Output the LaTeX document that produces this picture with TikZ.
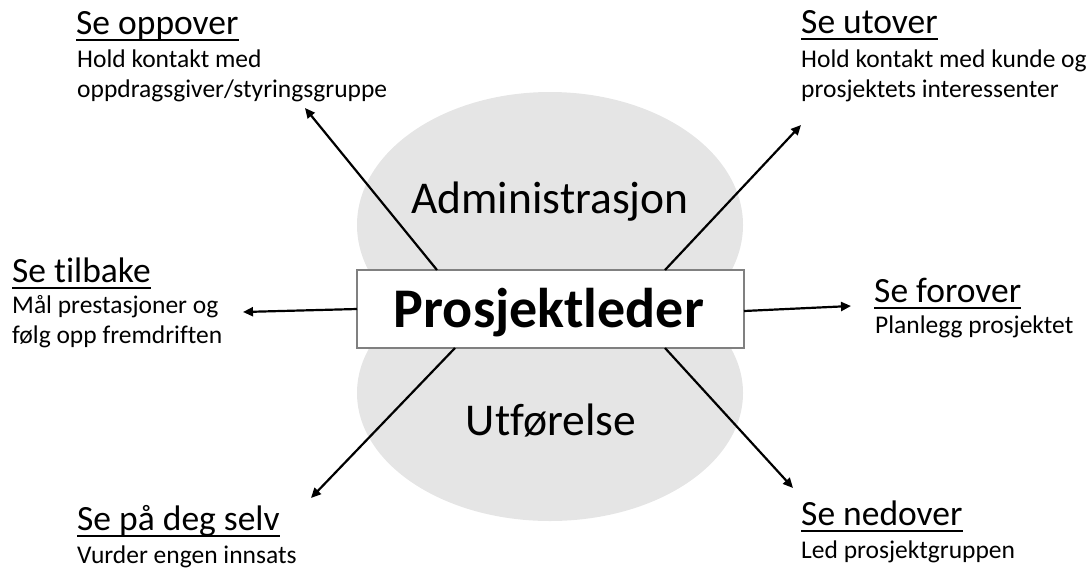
\documentclass[tikz,border=0pt]{standalone}
\usepackage{fontspec}
\setmainfont{Carlito}[Ligatures={NoCommon}]
\usetikzlibrary{arrows.meta}

\tikzset{
  blob/.style={fill=black!10, draw=none},
  centerbox/.style={draw=black!50, line width=1.4pt, fill=white, minimum width=387pt, minimum height=78pt, inner sep=0pt},
  head/.style={anchor=base west, inner sep=0pt, font=\fontsize{35.5}{40}\selectfont},
  body/.style={anchor=base west, inner sep=0pt, font=\fontsize{25.5}{30}\selectfont},
  area/.style={anchor=base, inner sep=0pt, font=\fontsize{45.5}{50}\selectfont},
  uline/.style={line width=1.8pt},
  dirarrow/.style={line width=2.2pt, -{Triangle[length=10pt,width=9pt]}}
}
\newcommand\twolines[2]{\vtop{\baselineskip=30.5pt\hbox{#1}\hbox{#2}}}

\begin{document}
\begin{tikzpicture}[x=1pt,y=-1pt]
\useasboundingbox (0,0) rectangle (1091,571);

% gray background shapes
\fill[blob] (550,225) ellipse [x radius=193, y radius=133];
\fill[blob] (550,393) ellipse [x radius=193, y radius=128];

\node[area] (adm) at (550,213) {Administrasjon};
\node[area] (utf) at (551,435) {Utførelse};

% central box
\node[centerbox] (pl) at (550.5,309) {};
\node[anchor=base, inner sep=0pt, font=\fontsize{56}{60}\selectfont\bfseries] (plt) at (549,327) {Prosjektleder};

% arrow anchors on the box border and free ends
\coordinate (sUL) at (437,270);
\coordinate (sUR) at (665,270);
\coordinate (sL)  at (357,309);
\coordinate (sR)  at (744,311);
\coordinate (sDL) at (455,348);
\coordinate (sDR) at (665,348);
\coordinate (tUL) at (305,108);
\coordinate (tUR) at (801,125);
\coordinate (tL)  at (243,312);
\coordinate (tR)  at (851,306);
\coordinate (tDL) at (311,498);
\coordinate (tDR) at (793,488);

\draw[dirarrow] (sUL) -- (tUL);
\draw[dirarrow] (sUR) -- (tUR);
\draw[dirarrow] (sL) -- (tL);
\draw[dirarrow] (sR) -- (tR);
\draw[dirarrow] (sDL) -- (tDL);
\draw[dirarrow] (sDR) -- (tDR);

% labels
\node[head] (h1) at (76,34) {Se oppover};
\node[body] (b1) at (77,67) {\twolines{Hold kontakt med}{oppdragsgiver/styringsgruppe}};
\draw[uline] ([yshift=-6pt]h1.base west) -- ([yshift=-6pt]h1.base east);

\node[head] (h2) at (801,33) {Se utover};
\node[body] (b2) at (801,67) {\twolines{Hold kontakt med kunde og}{prosjektets interessenter}};
\draw[uline] ([yshift=-6pt]h2.base west) -- ([yshift=-6pt]h2.base east);

\node[head] (h3) at (12,282) {Se tilbake};
\node[body] (b3) at (12,313) {\twolines{Mål prestasjoner og}{følg opp fremdriften}};
\draw[uline] ([yshift=-6pt]h3.base west) -- ([yshift=-6pt]h3.base east);

\node[head] (h4) at (874,302) {Se forover};
\node[body] (b4) at (875,333) {Planlegg prosjektet};
\draw[uline] ([yshift=-6pt]h4.base west) -- ([yshift=-6pt]h4.base east);

\node[head] (h5) at (77,530) {Se på deg selv};
\node[body] (b5) at (77,563) {Vurder engen innsats};
\draw[uline] ([yshift=-6pt]h5.base west) -- ([yshift=-6pt]h5.base east);

\node[head] (h6) at (801,525) {Se nedover};
\node[body] (b6) at (801,558) {Led prosjektgruppen};
\draw[uline] ([yshift=-6pt]h6.base west) -- ([yshift=-6pt]h6.base east);
\end{tikzpicture}
\end{document}
